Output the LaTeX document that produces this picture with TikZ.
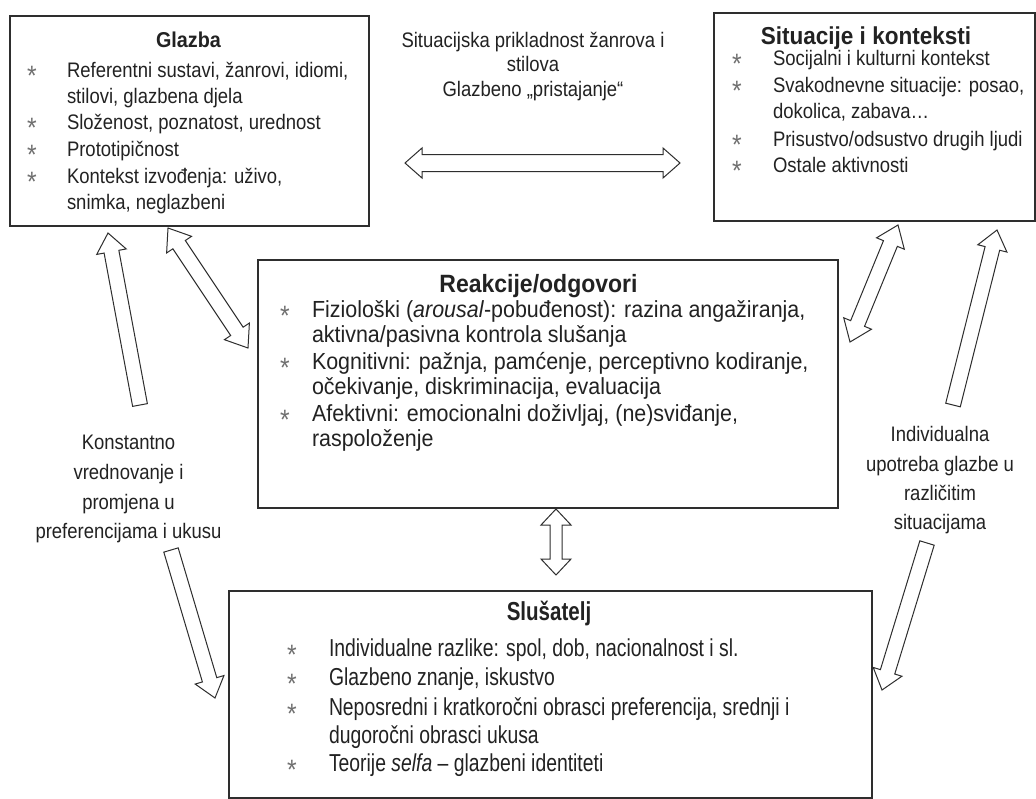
\documentclass[tikz,border=0pt]{standalone}
\usepackage{fontspec}
\setmainfont{Liberation Sans}
\newfontfamily\fA{Liberation Sans}[FakeStretch=0.88]
\newfontfamily\fB{Liberation Sans}[FakeStretch=0.92]
\newfontfamily\fC{Liberation Sans}[FakeStretch=0.79]
\usetikzlibrary{calc}
\definecolor{ink}{HTML}{222222}
\definecolor{boxline}{HTML}{2E2E2E}
\definecolor{bul}{HTML}{707070}
\tikzset{
  box/.style={draw=boxline, line width=1.6pt, rectangle, inner sep=0pt, anchor=north west},
  blockarrow/.style={draw=boxline, line width=1pt, fill=white, line join=miter},
  txt/.style={inner sep=0pt, outer sep=0pt, text=ink, anchor=base west, font=\fA\fontsize{21}{26}\selectfont},
  txtr/.style={txt, font=\fB\fontsize{23.3}{26}\selectfont},
  txts/.style={txt, font=\fC\fontsize{24.5}{30}\selectfont},
  ttl/.style={inner sep=0pt, outer sep=0pt, text=ink, anchor=base},
  bul/.style={inner sep=0pt, outer sep=0pt, text=bul, anchor=base, font=\fA\fontsize{28}{28}\selectfont},
  lbl/.style={inner sep=0pt, outer sep=0pt, text=ink, anchor=base, font=\fA\fontsize{21}{26}\selectfont},
}
% single block arrow: tail #1, tip #2, shaft half-width #3, head half-width #4, head length #5
\newcommand\sarr[5]{\draw[blockarrow]
 ($(#1)!#3!90:(#2)$) -- ($(#2)!#5!(#1)!#3!90:(#2)$) -- ($(#2)!#5!(#1)!#4!90:(#2)$) -- (#2)
 -- ($(#2)!#5!(#1)!#4!-90:(#2)$) -- ($(#2)!#5!(#1)!#3!-90:(#2)$) -- ($(#1)!#3!-90:(#2)$) -- cycle;}
% double block arrow between #1 and #2
\newcommand\darr[5]{\draw[blockarrow]
 (#1) -- ($(#1)!#5!(#2)!#4!90:(#2)$) -- ($(#1)!#5!(#2)!#3!90:(#2)$) -- ($(#2)!#5!(#1)!#3!90:(#2)$)
 -- ($(#2)!#5!(#1)!#4!90:(#2)$) -- (#2) -- ($(#2)!#5!(#1)!#4!-90:(#2)$) -- ($(#2)!#5!(#1)!#3!-90:(#2)$)
 -- ($(#1)!#5!(#2)!#3!-90:(#2)$) -- ($(#1)!#5!(#2)!#4!-90:(#2)$) -- cycle;}
\begin{document}
\begin{tikzpicture}[x=1pt,y=-1pt]
\useasboundingbox (0,0) rectangle (1036,798);
\clip (0,0) rectangle (1036,798);
\fill[white] (0,0) rectangle (1036,798);

% ---------- boxes ----------
\node[box, minimum width=359pt, minimum height=210pt] (glazba) at (9,15) {};
\node[box, minimum width=321pt, minimum height=208pt] (sit) at (713,12) {};
\node[box, minimum width=580pt, minimum height=248pt] (reak) at (257,259) {};
\node[box, minimum width=643pt, minimum height=207pt] (slus) at (228,590) {};

% ---------- Glazba ----------
\node[ttl, font=\fB\bfseries\fontsize{21.5}{26}\selectfont] (g0) at (188.5,47) {Glazba};
\node[bul] (gb1) at (32,85.5) {*};
\node[txt] (g1) at (67,77.5) {Referentni sustavi, žanrovi, idiomi,};
\node[txt] (g1b) at (67,103.5) {stilovi, glazbena djela};
\node[bul] (gb2) at (32,137.5) {*};
\node[txt] (g2) at (67,129.5) {Složenost, poznatost, urednost};
\node[bul] (gb3) at (32,164.5) {*};
\node[txt] (g3) at (67,156.5) {Prototipičnost};
\node[bul] (gb4) at (32,191.5) {*};
\node[txt] (g4) at (67,183.5) {Kontekst izvođenja: uživo,};
\node[txt] (g4b) at (67,209.5) {snimka, neglazbeni};

% ---------- Situacije ----------
\node[ttl, font=\fB\bfseries\fontsize{24.5}{30}\selectfont] (s0) at (866,44) {Situacije i konteksti};
\node[bul] (sb1) at (737,73) {*};
\node[txt] (s1) at (773,65) {Socijalni i kulturni kontekst};
\node[bul] (sb2) at (737,100) {*};
\node[txt] (s2) at (773,92) {Svakodnevne situacije: posao,};
\node[txt] (s2b) at (773,118.5) {dokolica, zabava…};
\node[bul] (sb3) at (737,154) {*};
\node[txt] (s3) at (773,146) {Prisustvo/odsustvo drugih ljudi};
\node[bul] (sb4) at (737,180.5) {*};
\node[txt] (s4) at (773,172.5) {Ostale aktivnosti};

% ---------- top middle label ----------
\node[lbl] (m1) at (533,47) {Situacijska prikladnost žanrova i};
\node[lbl] (m2) at (533,71) {stilova};
\node[lbl] (m3) at (533,96) {Glazbeno „pristajanje“};

% ---------- Reakcije ----------
\node[ttl, font=\fB\bfseries\fontsize{25}{30}\selectfont] (r0) at (538.5,292) {Reakcije/odgovori};
\node[bul] (rb1) at (285,325) {*};
\node[txtr] (r1) at (312,317) {Fiziološki (\textit{arousal}-pobuđenost): razina angažiranja,};
\node[txtr] (r1b) at (312,342) {aktivna/pasivna kontrola slušanja};
\node[bul] (rb2) at (285,377) {*};
\node[txtr] (r2) at (312,369) {Kognitivni: pažnja, pamćenje, perceptivno kodiranje,};
\node[txtr] (r2b) at (312,394) {očekivanje, diskriminacija, evaluacija};
\node[bul] (rb3) at (285,429) {*};
\node[txtr] (r3) at (312,421) {Afektivni: emocionalni doživljaj, (ne)sviđanje,};
\node[txtr] (r3b) at (312,446) {raspoloženje};

% ---------- Slušatelj ----------
\node[ttl, font=\fC\bfseries\fontsize{26}{30}\selectfont] (l0) at (549,620) {Slušatelj};
\node[bul] (lb1) at (292,664) {*};
\node[txts] (l1) at (329,656) {Individualne razlike: spol, dob, nacionalnost i sl.};
\node[bul] (lb2) at (292,693) {*};
\node[txts] (l2) at (329,685) {Glazbeno znanje, iskustvo};
\node[bul] (lb3) at (292,723) {*};
\node[txts] (l3) at (329,715) {Neposredni i kratkoročni obrasci preferencija, srednji i};
\node[txts] (l3b) at (329,743) {dugoročni obrasci ukusa};
\node[bul] (lb4) at (292,779) {*};
\node[txts] (l4) at (329,771) {Teorije \textit{selfa} – glazbeni identiteti};

% ---------- side labels ----------
\node[lbl] (k1) at (128.5,449) {Konstantno};
\node[lbl] (k2) at (128.5,479) {vrednovanje i};
\node[lbl] (k3) at (128.5,509) {promjena u};
\node[lbl] (k4) at (128.5,538) {preferencijama i ukusu};
\node[lbl] (i1) at (940,441) {Individualna};
\node[lbl] (i2) at (940,471) {upotreba glazbe u};
\node[lbl] (i3) at (940,500) {različitim};
\node[lbl] (i4) at (940,529) {situacijama};

% ---------- arrow end points ----------
\coordinate (gsL) at (405,163);
\coordinate (gsR) at (680,163);
\coordinate (grG) at (168,228);
\coordinate (grR) at (248,348);
\coordinate (kUp) at (140,405);
\coordinate (kG) at (108,233);
\coordinate (kDn) at (171,550);
\coordinate (kS) at (215,698);
\coordinate (srR) at (850,342);
\coordinate (srS) at (898,225);
\coordinate (iUp) at (953,405);
\coordinate (iS) at (997,230);
\coordinate (iDn) at (927,543);
\coordinate (iL) at (882,690);
\coordinate (rlR) at (556,509);
\coordinate (rlL) at (556,575);

% ---------- block arrows ----------
\darr{gsL}{gsR}{8.5pt}{15pt}{17pt}
\darr{grG}{grR}{7.5pt}{15pt}{20pt}
\sarr{kUp}{kG}{7.5pt}{15pt}{19pt}
\sarr{kDn}{kS}{7.5pt}{15pt}{19pt}
\darr{srR}{srS}{7.5pt}{15pt}{20pt}
\sarr{iUp}{iS}{7.5pt}{15pt}{19pt}
\sarr{iDn}{iL}{7.5pt}{15pt}{19pt}
\darr{rlR}{rlL}{6pt}{15pt}{16pt}
\end{tikzpicture}
\end{document}
